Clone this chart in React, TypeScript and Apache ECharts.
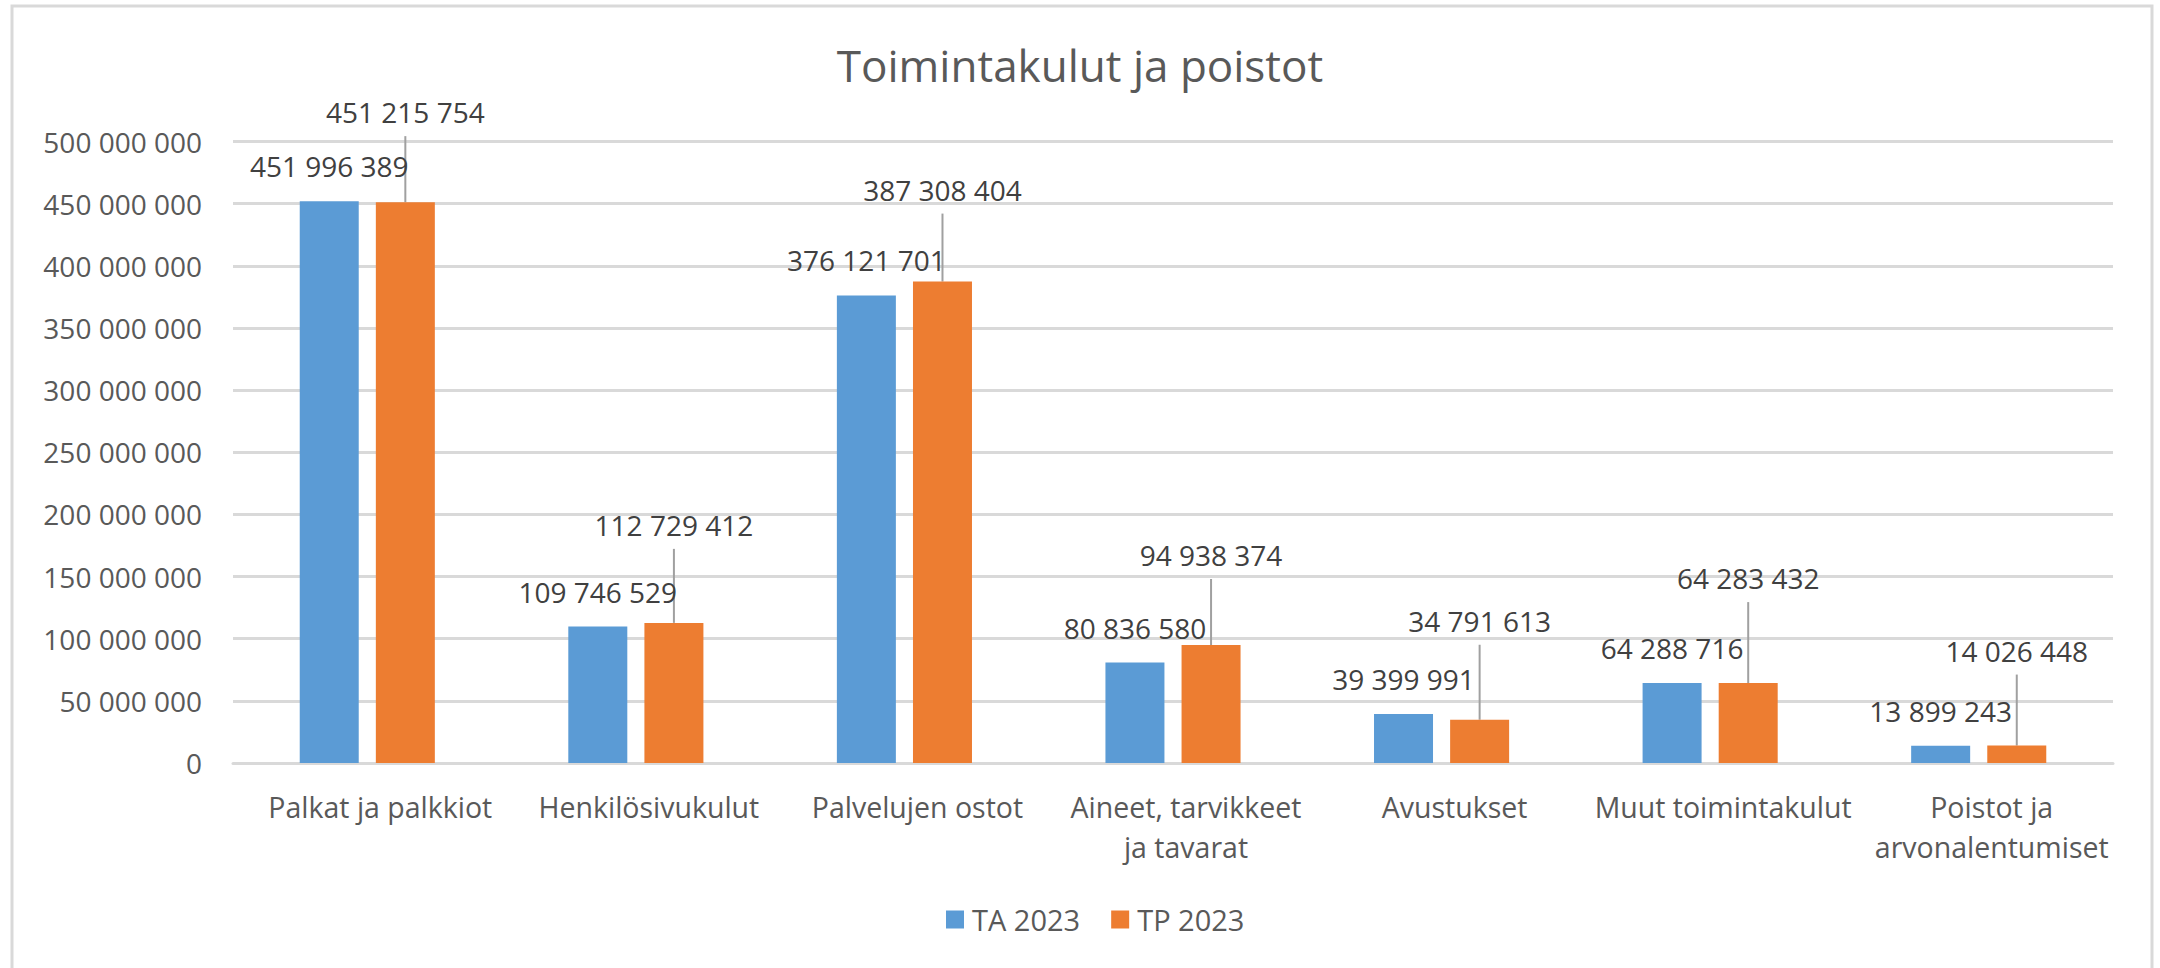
import React, { useEffect, useRef } from "react";
import * as echarts from "echarts";

const categories = [
  "Palkat ja palkkiot",
  "Henkilösivukulut",
  "Palvelujen ostot",
  "Aineet, tarvikkeet\nja tavarat",
  "Avustukset",
  "Muut toimintakulut",
  "Poistot ja\narvonalentumiset",
];
const seriesNames = ["TA 2023", "TP 2023"];
const ta2023 = [451996389, 109746529, 376121701, 80836580, 39399991, 64288716, 13899243];
const tp2023 = [451215754, 112729412, 387308404, 94938374, 34791613, 64283432, 14026448];
// extra upward shift of the TP data labels (dragged labels with leader lines)
const tpLabelLift = [55, 63, 57, 55, 64, 70, 60];

const fmt = (n: number) => String(Math.round(n)).replace(/\B(?=(\d{3})+(?!\d))/g, " ");

const FONT = "'Open Sans', 'Noto Sans', sans-serif";

export default function App() {
  const ref = useRef<HTMLDivElement>(null);
  useEffect(() => {
    if (!ref.current) return;
    const chart = echarts.init(ref.current, null, { renderer: "svg" });
    chart.setOption({
      animation: false,
      backgroundColor: "#ffffff",
      textStyle: { fontFamily: FONT },
      title: {
        text: "Toimintakulut ja poistot",
        left: "center",
        top: 38,
        textStyle: { fontFamily: FONT, fontSize: 44, fontWeight: "normal", color: "#595959" },
      },
      graphic: [
        {
          type: "rect",
          shape: { x: 12, y: 6, width: 2140, height: 1000 },
          style: { fill: "none", stroke: "#d9d9d9", lineWidth: 3 },
          silent: true,
        },
      ],
      legend: {
        data: seriesNames,
        left: 941,
        top: 900,
        icon: "rect",
        itemWidth: 18,
        itemHeight: 18,
        itemGap: 31,
        textStyle: { fontFamily: FONT, fontSize: 29, color: "#595959", padding: [0, 0, 0, 3] },
      },
      grid: { left: 233, right: 47, top: 141.5, bottom: 205, containLabel: false },
      xAxis: {
        type: "category",
        data: categories,
        axisLine: { show: true, lineStyle: { color: "#d9d9d9", width: 3 } },
        axisTick: { show: false },
        axisLabel: {
          interval: 0,
          margin: 24,
          fontFamily: FONT,
          fontSize: 28.5,
          lineHeight: 40,
          color: "#595959",
          padding: [0, 0, 0, 26],
        },
      },
      yAxis: {
        type: "value",
        min: 0,
        max: 500000000,
        interval: 50000000,
        axisLine: { show: false },
        axisTick: { show: false },
        splitLine: { lineStyle: { color: "#d9d9d9", width: 3 } },
        axisLabel: {
          margin: 31,
          fontFamily: FONT,
          fontSize: 28,
          color: "#595959",
          formatter: (v: number) => fmt(v),
        },
      },
      series: [
        {
          name: seriesNames[0],
          type: "bar",
          data: ta2023,
          barWidth: 59,
          barGap: "29%",
          itemStyle: { color: "#5B9BD5" },
          label: {
            show: true,
            position: "top",
            distance: 21,
            fontFamily: FONT,
            fontSize: 28,
            color: "#404040",
            formatter: (p: any) => fmt(p.value),
          },
        },
        {
          name: seriesNames[1],
          type: "bar",
          data: tp2023,
          barWidth: 59,
          barGap: "29%",
          itemStyle: { color: "#ED7D31" },
          label: {
            show: true,
            position: "top",
            distance: 11,
            padding: [0, 0, 10, 0],
            backgroundColor: "rgba(255,255,255,0)",
            fontFamily: FONT,
            fontSize: 28,
            color: "#404040",
            formatter: (p: any) => fmt(p.value),
          },
          labelLine: { show: true, lineStyle: { color: "#a0a0a0", width: 2 } },
          labelLayout: (params: any) => ({ dy: -tpLabelLift[params.dataIndex] }),
        },
      ],
    });
    return () => chart.dispose();
  }, []);
  return (
    <div
      ref={ref}
      style={{ position: "absolute", left: 0, top: 0, width: 2160, height: 968 }}
    />
  );
}
